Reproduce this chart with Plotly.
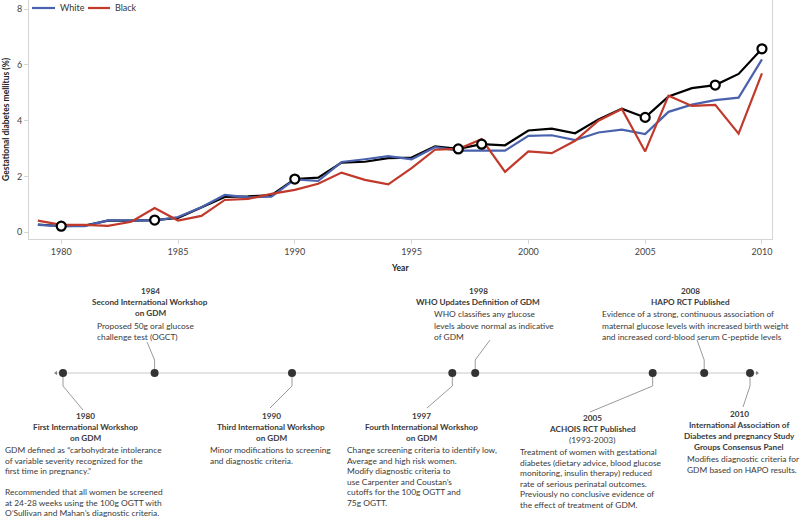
import plotly.graph_objects as go

# incidence of GDM (%) by year
years = list(range(1979, 2011))
overall = [0.28, 0.22, 0.24, 0.42, 0.42, 0.44, 0.52, 0.90, 1.27, 1.29, 1.33, 1.91, 1.96, 2.50, 2.53, 2.66,
           2.68, 3.08, 2.99, 3.16, 3.12, 3.65, 3.72, 3.55, 4.05, 4.43, 4.12, 4.87, 5.17, 5.28, 5.68, 6.58]
white = [0.27, 0.22, 0.22, 0.43, 0.43, 0.42, 0.55, 0.90, 1.34, 1.25, 1.28, 1.90, 1.84, 2.52, 2.62, 2.73,
         2.62, 3.05, 2.93, 2.93, 2.93, 3.46, 3.48, 3.31, 3.58, 3.68, 3.52, 4.32, 4.58, 4.74, 4.83, 6.20]
black = [0.42, 0.27, 0.27, 0.23, 0.38, 0.87, 0.42, 0.59, 1.16, 1.20, 1.38, 1.52, 1.74, 2.14, 1.88, 1.72,
         2.30, 2.96, 2.99, 3.34, 2.17, 2.90, 2.84, 3.28, 4.00, 4.42, 2.90, 4.90, 4.53, 4.57, 3.54, 5.70]

# timeline events
event_years = [1980, 1984, 1990, 1997, 1998, 2005, 2008, 2010]
timeline_pos = [1980, 1984, 1990, 1997, 1998, 2005.75, 2008, 2010]
event_titles = [
    "First International Workshop<br>on GDM",
    "Second International Workshop<br>on GDM",
    "Third International Workshop<br>on GDM",
    "Fourth International Workshop<br>on GDM",
    "WHO Updates Definition of GDM",
    "ACHOIS RCT Published",
    "HAPO RCT Published",
    "International Association of<br>Diabetes and pregnancy Study<br>Groups Consensus Panel",
]
event_subtitles = ["", "", "", "", "", "(1993-2003)", "", ""]
event_texts = [
    "GDM defined as “carbohydrate intolerance<br>of variable severity recognized for the<br>first time in pregnancy.”"
    "<br><br>Recommended that all women be screened<br>at 24-28 weeks using the 100g OGTT with<br>"
    "O’Sullivan and Mahan’s diagnostic criteria.",
    "Proposed 50g oral glucose<br>challenge test (OGCT)",
    "Minor modifications to screening<br>and diagnostic criteria.",
    "Change screening criteria to identify low,<br>Average and high risk women.<br>Modify diagnostic criteria to"
    "<br>use Carpenter and Coustan’s<br>cutoffs for the 100g OGTT and<br>75g OGTT.",
    "WHO classifies any glucose<br>levels above normal as indicative<br>of GDM",
    "Treatment of women with gestational<br>diabetes (dietary advice, blood glucose<br>monitoring, insulin therapy) reduced"
    "<br>rate of serious perinatal outcomes.<br>Previously no conclusive evidence of<br>the effect of treatment of GDM.",
    "Evidence of a strong, continuous association of<br>maternal glucose levels with increased birth weight"
    "<br>and increased cord-blood serum C-peptide levels",
    "Modifies diagnostic criteria for<br>GDM based on HAPO results.",
]

# label placement (pixels): header centre x, header first line y, body left x, body first line y,
# line spacing, connector end
label_hx = [85, 150, 271, 421, 478, 592, 690, 739]
label_hy = [416, 291, 416, 416, 291, 418, 291, 414]
label_bx = [3, 95, 208, 345, 432, 518, 600, 685]
label_by = [450, 326, 450, 450, 314, 452, 314, 459]
label_gap = [10.5, 11, 10.5, 10.5, 11.5, 10.6, 11.5, 10.8]
conn_end = [(83, 410), (147, 342), (270, 408), (427, 408), (490, 340), (590, 412), (697, 340), (743, 407)]

W, H = 800, 518
TL_Y = 373          # timeline row (pixels from top)
TL_X0, TL_SCALE = 63, 22.9   # px of 1980 and px per year on timeline

FONT = "Lato"
TXT = "#3a3a3a"


def px(x):
    return x / W


def py(y):
    return 1 - y / H


def to_year(x):
    return 1980 + (x - TL_X0) / TL_SCALE


fig = go.Figure()

fig.add_trace(go.Scatter(x=years, y=overall, mode="lines", line=dict(color="black", width=2.2),
                         showlegend=False, hoverinfo="skip"))
fig.add_trace(go.Scatter(x=years, y=white, mode="lines", name="White", line=dict(color="#4a62ad", width=2.2)))
fig.add_trace(go.Scatter(x=years, y=black, mode="lines", name="Black", line=dict(color="#c0392b", width=2.2)))
fig.add_trace(go.Scatter(x=event_years, y=[overall[years.index(e)] for e in event_years], mode="markers",
                         marker=dict(symbol="circle", size=9, color="white", line=dict(color="black", width=2.2)),
                         showlegend=False))

# legend drawn by hand to keep its compact look
for (x0, x1, tx, name, col) in [(32, 55, 58, "White", "#4a62ad"), (88, 110, 113, "Black", "#c0392b")]:
    fig.add_shape(type="line", xref="paper", yref="paper", x0=px(x0), x1=px(x1), y0=py(8), y1=py(8),
                  line=dict(color=col, width=2.2))
    fig.add_annotation(x=px(tx), y=py(8), xref="paper", yref="paper", text=name, showarrow=False,
                       xanchor="left", yanchor="middle", font=dict(family=FONT, size=9, color="#333"))

# timeline
tl_left, tl_right = to_year(56), to_year(757)
fig.add_trace(go.Scatter(x=[tl_left, tl_right], y=[TL_Y, TL_Y], mode="lines", xaxis="x2", yaxis="y2",
                         line=dict(color="#c8c8c8", width=1), showlegend=False, hoverinfo="skip"))
fig.add_trace(go.Scatter(x=[tl_left, tl_right], y=[TL_Y, TL_Y], mode="markers", xaxis="x2", yaxis="y2",
                         marker=dict(symbol=["triangle-left", "triangle-right"], size=4, color="#888"),
                         showlegend=False, hoverinfo="skip"))

cx, cy = [], []
for i, pos in enumerate(timeline_pos):
    ex, ey = conn_end[i]
    mid = TL_Y - 13 if ey < TL_Y else TL_Y + 13
    cx += [pos, pos, to_year(ex), None]
    cy += [TL_Y, mid, ey, None]
fig.add_trace(go.Scatter(x=cx, y=cy, mode="lines", xaxis="x2", yaxis="y2",
                         line=dict(color="#9a9a9a", width=1), showlegend=False, hoverinfo="skip"))
fig.add_trace(go.Scatter(x=timeline_pos, y=[TL_Y] * len(timeline_pos), mode="markers", xaxis="x2", yaxis="y2",
                         marker=dict(size=8, color="#333333"), showlegend=False, hoverinfo="skip"))


def text_line(x, y, s, anchor, size, bold=False):
    fig.add_annotation(x=px(x), y=py(y), xref="paper", yref="paper", text=("<b>%s</b>" % s) if bold else s,
                       showarrow=False, xanchor=anchor, yanchor="middle",
                       font=dict(family=FONT, size=size, color=TXT))


# one annotation per line so the line spacing follows the picture
for i, yr in enumerate(event_years):
    head = [str(yr)] + event_titles[i].split("<br>")
    for k, s in enumerate(head):
        text_line(label_hx[i], label_hy[i] + k * 11, s, "center", 8.2, bold=True)
    if event_subtitles[i]:
        text_line(label_hx[i], label_hy[i] + len(head) * 11, event_subtitles[i], "center", 8.4)
    for k, s in enumerate(event_texts[i].split("<br>")):
        if s:
            text_line(label_bx[i], label_by[i] + k * label_gap[i], s, "left", 8.4)

fig.add_annotation(x=px(400), y=py(268), xref="paper", yref="paper", text="<b>Year</b>", showarrow=False,
                   font=dict(family=FONT, size=8.5, color="#222"))

fig.update_layout(
    width=W, height=H,
    margin=dict(l=0, r=0, t=0, b=0, autoexpand=False),
    paper_bgcolor="white", plot_bgcolor="rgba(0,0,0,0)",
    font=dict(family=FONT, size=9, color="#444"),
    showlegend=False,
    xaxis=dict(domain=[px(29), px(772)], range=[1978.62, 2010.43], tickvals=[1980, 1985, 1990, 1995, 2000, 2005, 2010],
               showgrid=False, zeroline=False, showline=True, linecolor="#d4d4d4", mirror=True, automargin=False,
               ticks="outside", ticklen=4, tickcolor="#d4d4d4", tickfont=dict(size=9, color="#444")),
    yaxis=dict(domain=[py(239), 1], range=[-0.24, 8.33], tickvals=[0, 2, 4, 6, 8], automargin=False,
               showgrid=False, zeroline=False, showline=True, linecolor="#d4d4d4", mirror=True,
               ticks="outside", ticklen=4, tickcolor="#d4d4d4", tickfont=dict(size=9, color="#444"),
               title=dict(text="<b>Gestational diabetes mellitus (%)</b>", standoff=5,
                          font=dict(family=FONT, size=8.5, color="#222"))),
    xaxis2=dict(domain=[0, 1], range=[to_year(0), to_year(W)], visible=False, anchor="y2"),
    yaxis2=dict(domain=[0, 1], range=[H, 0], visible=False, anchor="x2"),
)

# the page body keeps its default 8px margin unless told otherwise
fig.write_html("out.html", config={"displayModeBar": False},
               post_script="document.body.style.margin='0';document.body.style.overflow='hidden';")
